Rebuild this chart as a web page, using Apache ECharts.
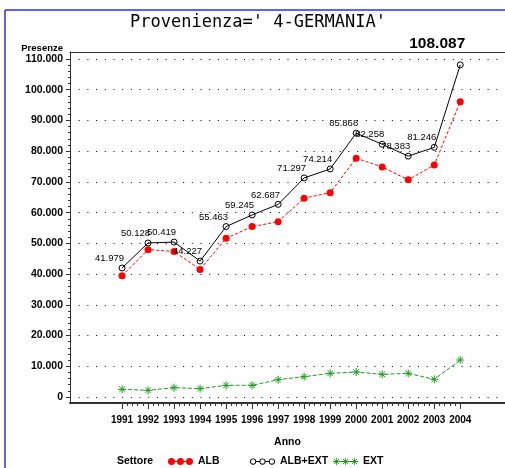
<!DOCTYPE html>
<html>
<head>
<meta charset="utf-8">
<style>html,body{margin:0;padding:0;background:#fff;}#c{width:505px;height:468px;}</style>
<script src="https://cdn.jsdelivr.net/npm/echarts@6/dist/echarts.min.js"></script>
</head>
<body>
<div id="c"></div>
<script>
// ---- data ----
const years = [1991, 1992, 1993, 1994, 1995, 1996, 1997, 1998, 1999, 2000, 2001, 2002, 2003, 2004];
const alb = [39480, 47960, 47380, 41510, 51660, 55450, 57050, 64690, 66510, 77730, 74880, 70680, 75500, 96050];
const albExt = [41979, 50128, 50419, 44227, 55463, 59245, 62687, 71297, 74214, 85868, 82258, 78383, 81246, 108087];
const ext = [2500, 2170, 3040, 2720, 3800, 3800, 5640, 6610, 7700, 8140, 7380, 7700, 5750, 12040];
const seriesNames = ['ALB', 'ALB+EXT', 'EXT'];

const X_MIN = 1989.0, X_MAX = 2005.72;
const fmt = v => String(v).replace(/\B(?=(\d{3})+(?!\d))/g, '.');
const AXFONT = '"Liberation Sans",Arial,sans-serif';
const minorX = [];
years.slice(0, -1).forEach(y => { [0.2, 0.4, 0.6, 0.8].forEach(f => minorX.push(+(y + f).toFixed(1))); });

const pts = arr => years.map((y, i) => [y, arr[i]]);
const albExtData = years.map((y, i) => {
  const d = { value: [y, albExt[i]] };
  if (i === years.length - 1) {
    d.label = { fontSize: 15.5, fontWeight: 'bold', fontFamily: '"Liberation Sans",Arial,sans-serif',
      align: 'center', distance: 10, offset: [-23, 0] };
  }
  return d;
});

// legend icons
const ringIcon = (() => {
  let p = '';
  [4, 13, 22].forEach(c => {
    p += `M${c-3} 4 A3 3 0 1 1 ${c+3} 4 A3 3 0 1 1 ${c-3} 4 Z `;
    p += `M${c-2.1} 4 A2.1 2.1 0 1 0 ${c+2.1} 4 A2.1 2.1 0 1 0 ${c-2.1} 4 Z `;
  });
  p += 'M7 3.5 L10 3.5 L10 4.5 L7 4.5 Z M16 3.5 L19 3.5 L19 4.5 L16 4.5 Z';
  return 'path://' + p;
})();
const dotIcon = (() => {
  let p = '';
  [4, 13, 22].forEach(c => { p += `M${c-3.5} 4 A3.5 3.5 0 1 1 ${c+3.5} 4 A3.5 3.5 0 1 1 ${c-3.5} 4 Z `; });
  p += 'M4 3.5 L22 3.5 L22 4.5 L4 4.5 Z';
  return 'path://' + p;
})();
const starIcon = (() => {
  let p = 'M0.5 3.6 L25.5 3.6 L25.5 4.4 L0.5 4.4 Z ';
  [4, 13, 22].forEach(c => {
    p += `M${c-0.4} 0.5 L${c+0.4} 0.5 L${c+0.4} 7.5 L${c-0.4} 7.5 Z `;
    p += `M${c-2.8} 1.8 L${c-2.2} 1.2 L${c+2.8} 6.2 L${c+2.2} 6.8 Z `;
    p += `M${c-2.8} 6.2 L${c+2.2} 1.2 L${c+2.8} 1.8 L${c-2.2} 6.8 Z `;
  });
  return 'path://' + p;
})();

const RED = '#ff0000', GREEN = '#1f9a1f', BLUE = '#2b2bff';
const axText = { fontFamily: AXFONT, fontSize: 10.5, fontWeight: 'bold', color: '#000' };
const legendIcons = [dotIcon, ringIcon, starIcon];
const legendColors = [RED, '#000', GREEN];
const legendLeft = [168, 250, 333];

const chart = echarts.init(document.getElementById('c'), null, { renderer: 'canvas' });
chart.setOption({
  animation: false,
  backgroundColor: '#fff',
  title: [
    { text: "Provenienza=' 4-GERMANIA'", left: 130, top: 14, padding: 0,
      textStyle: { fontFamily: '"DejaVu Sans Mono",monospace', fontSize: 17, fontWeight: 'normal', color: '#000' } },
    { text: 'Settore', left: 117, top: 456, padding: 0, textStyle: axText }
  ],
  legend: seriesNames.map((n, i) => ({
    left: legendLeft[i], top: 456, padding: 0, itemWidth: 25, itemHeight: 8,
    textStyle: axText,
    data: [{ name: n, icon: legendIcons[i], itemStyle: { color: legendColors[i], borderWidth: 0 } }]
  })),
  graphic: [
    { type: 'line', shape: { x1: 5, y1: 10, x2: 5, y2: 468 }, style: { stroke: BLUE, lineWidth: 1.5 }, silent: true },
    { type: 'line', shape: { x1: 5, y1: 10, x2: 505, y2: 10 }, style: { stroke: BLUE, lineWidth: 1.5 }, silent: true }
  ],
  grid: [
    { left: 70, right: 0, top: 59, bottom: 71 },
    { left: 70, right: 0, top: 52, bottom: 65 }
  ],
  xAxis: [
    { gridIndex: 0, type: 'value', min: X_MIN, max: X_MAX, show: false },
    { gridIndex: 1, type: 'value', min: X_MIN, max: X_MAX, position: 'bottom',
      axisLine: { show: true, lineStyle: { color: '#333', width: 2 } },
      axisTick: { show: true, customValues: years, length: 6, lineStyle: { color: '#333', width: 1 } },
      axisLabel: Object.assign({ show: true, customValues: years, margin: 12, hideOverlap: false,
        showMinLabel: true, showMaxLabel: true, formatter: v => String(Math.round(v)) }, axText, { fontSize: 10 }),
      splitLine: { show: false },
      name: 'Anno', nameLocation: 'middle', nameGap: 34, nameTextStyle: axText },
    { gridIndex: 1, type: 'value', min: X_MIN, max: X_MAX, position: 'top',
      axisLine: { show: true, lineStyle: { color: '#333', width: 1 } },
      axisTick: { show: false }, axisLabel: { show: false }, splitLine: { show: false } },
    { gridIndex: 1, type: 'value', min: X_MIN, max: X_MAX, position: 'bottom',
      axisLine: { show: false },
      axisTick: { show: true, customValues: minorX, length: 3, lineStyle: { color: '#333', width: 1 } },
      axisLabel: { show: false }, splitLine: { show: false } }
  ],
  yAxis: [
    { gridIndex: 0, type: 'value', min: 0, max: 110000, interval: 10000,
      axisLine: { show: false },
      axisTick: { show: true, length: 4, lineStyle: { color: '#333' } },
      minorTick: { show: true, splitNumber: 5, length: 2, lineStyle: { color: '#333' } },
      axisLabel: Object.assign({ margin: 7, formatter: v => fmt(v) }, axText),
      splitLine: { show: true, lineStyle: { color: '#000', width: 1, type: [1, 7.7] } },
      name: 'Presenze', nameLocation: 'end', nameGap: 4,
      nameTextStyle: Object.assign({}, axText, { align: 'right', padding: [0, 7, 0, 0], fontSize: 9.5 }) },
    { gridIndex: 1, type: 'value', min: 0, max: 1,
      axisLine: { show: true, lineStyle: { color: '#333', width: 1 } },
      axisTick: { show: false }, axisLabel: { show: false }, splitLine: { show: false } }
  ],
  series: [
    { name: seriesNames[0], type: 'line', xAxisIndex: 0, yAxisIndex: 0, data: pts(alb),
      symbol: 'circle', symbolSize: 7, itemStyle: { color: RED },
      lineStyle: { color: RED, width: 1, type: [3, 2] }, z: 3 },
    { name: seriesNames[1], type: 'line', xAxisIndex: 0, yAxisIndex: 0, data: albExtData,
      symbol: 'circle', symbolSize: 6,
      itemStyle: { color: 'transparent', borderColor: '#000', borderWidth: 1 },
      lineStyle: { color: '#000', width: 1 },
      label: { show: true, position: 'top', distance: 1, align: 'right', offset: [2, 0],
        formatter: p => fmt(p.value[1]), fontFamily: '"Liberation Sans",Arial,sans-serif', fontSize: 9.5, color: '#000' },
      z: 4 },
    { name: seriesNames[2], type: 'line', xAxisIndex: 0, yAxisIndex: 0, data: pts(ext),
      symbol: 'path://M0 5L10 5M5 0L5 10M1.5 1.5L8.5 8.5M1.5 8.5L8.5 1.5', symbolSize: 8,
      itemStyle: { color: GREEN, borderColor: GREEN, borderWidth: 1 },
      lineStyle: { color: GREEN, width: 1, type: [4, 2] }, z: 3 }
  ]
});
</script>
</body>
</html>
